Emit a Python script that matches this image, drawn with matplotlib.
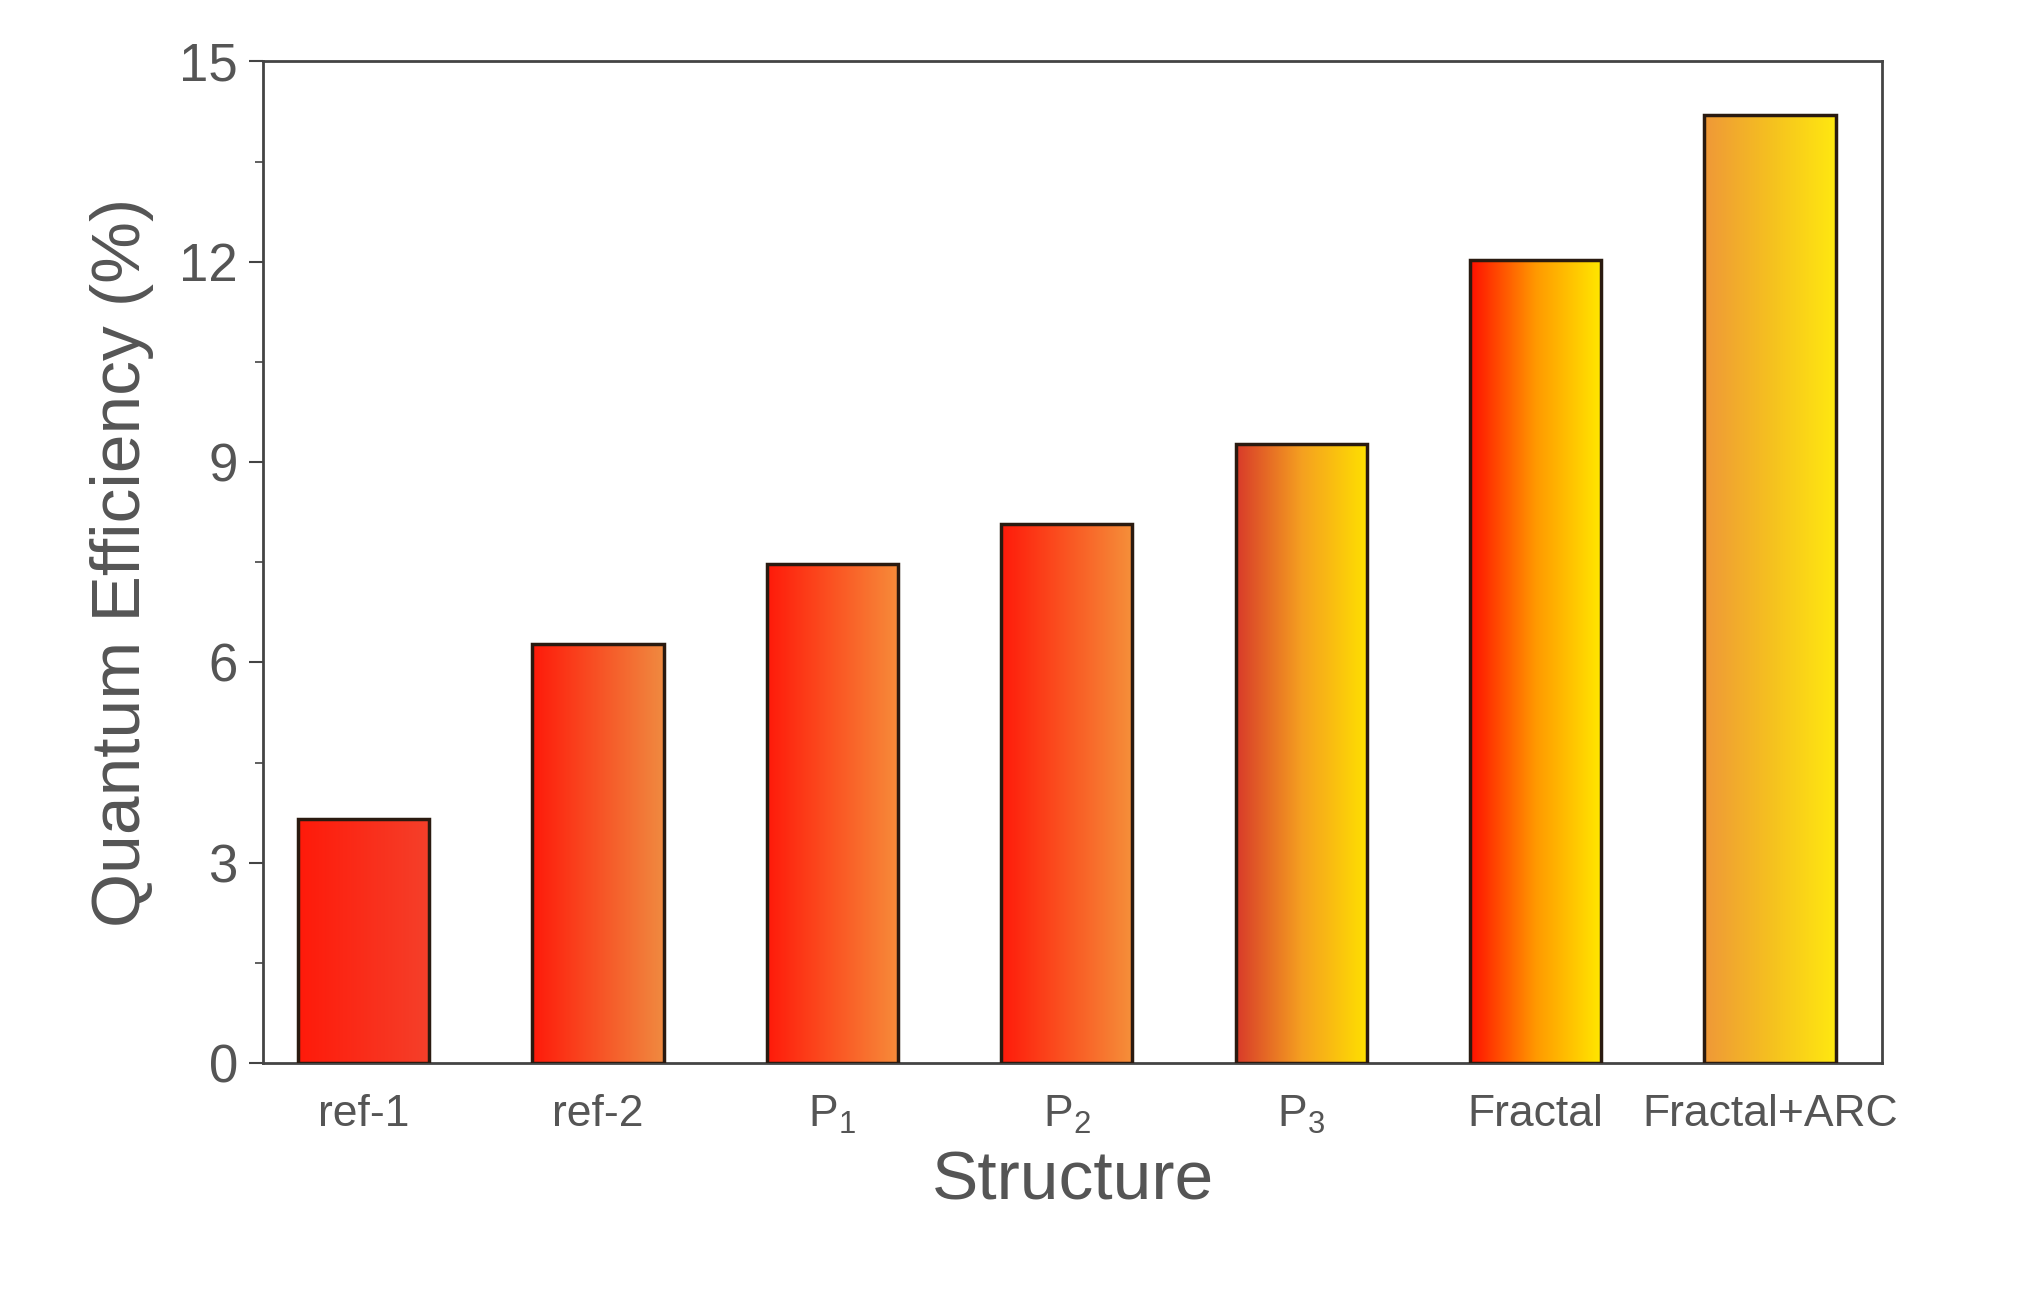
import numpy as np
import matplotlib
matplotlib.use("Agg")
import matplotlib.pyplot as plt
from matplotlib.colors import LinearSegmentedColormap
from matplotlib.patches import Rectangle

plt.rcParams['font.family'] = ['Liberation Sans', 'DejaVu Sans']
plt.rcParams['mathtext.fontset'] = 'custom'
plt.rcParams['mathtext.rm'] = 'Liberation Sans'
plt.rcParams['mathtext.it'] = 'Liberation Sans'

structures = ["ref-1", "ref-2", "P$_{1}$", "P$_{2}$", "P$_{3}$", "Fractal", "Fractal+ARC"]
efficiency = [3.65, 6.27, 7.47, 8.07, 9.27, 12.03, 14.2]

# gradient left -> right for each bar
grads = [
    ["#ff1a0a", "#f5402a"],
    ["#ff1a0a", "#f08a40"],
    ["#ff1a0a", "#f78c3a"],
    ["#ff1a0a", "#f5903a"],
    ["#d83a2a", "#f5a020", "#ffe000"],
    ["#ff1000", "#ff9900", "#ffe800"],
    ["#ef9838", "#f5c020", "#ffe810"],
]

fig = plt.figure(figsize=(20.22, 13.06), dpi=100)
ax = fig.add_axes([0.130, 0.186, 0.801, 0.767])
width = 0.56
gray = "#444444"
for i, (v, g) in enumerate(zip(efficiency, grads)):
    cmap = LinearSegmentedColormap.from_list("g%d" % i, g)
    x0 = i - width / 2
    im = ax.imshow(np.linspace(0, 1, 256)[None, :], cmap=cmap, aspect='auto',
                   extent=[x0, x0 + width, 0, v], zorder=2)
    r = Rectangle((x0, 0), width, v, fill=False, ec="#2a1a10", lw=2.5, zorder=3)
    ax.add_patch(r)
    im.set_clip_path(r)

ax.set_xlim(-0.43, 6.48)
ax.set_ylim(0, 15)
ax.set_yticks([0, 3, 6, 9, 12, 15])
ax.set_yticks(np.arange(0, 15.1, 1.5), minor=True)
ax.set_xticks(range(len(structures)))
ax.set_xticklabels(structures, fontsize=32, color="#555555")
ax.tick_params(axis='x', length=0, pad=22)
ax.tick_params(axis='y', which='major', labelsize=38, length=10, width=1.5,
               colors=gray, labelcolor="#555555", pad=8)
ax.tick_params(axis='y', which='minor', length=6, width=1.2, colors=gray)
for s in ax.spines.values():
    s.set_color(gray)
    s.set_linewidth(2)
ax.set_xlabel("Structure", fontsize=50, color="#555555", labelpad=10)
ax.set_ylabel("Quantum Efficiency (%)", fontsize=50, color="#555555", labelpad=18)
fig.savefig("out.png", dpi=100)
